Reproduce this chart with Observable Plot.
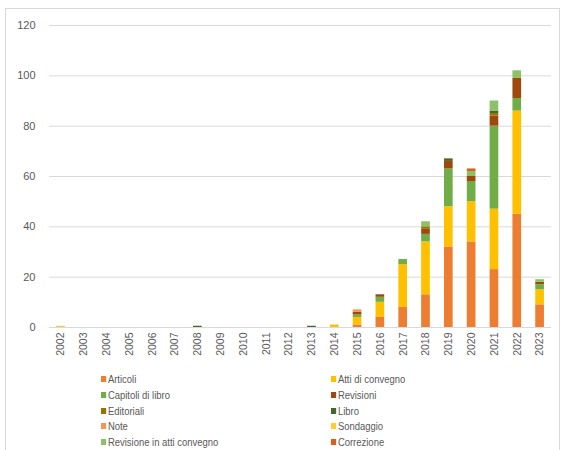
<!DOCTYPE html>
<html>
<head>
<meta charset="utf-8">
<script src="https://cdn.jsdelivr.net/npm/d3@7"></script>
<script src="https://cdn.jsdelivr.net/npm/@observablehq/plot@0.6"></script>
<style>
  body { margin: 0; background: #fff; width: 565px; height: 450px; overflow: hidden; position: relative;
         font-family: "Liberation Sans", Arial, sans-serif; }
  #frame { position: absolute; left: 5px; top: 8px; width: 555px; height: 460px; border: 1px solid #d9d9d9; box-sizing: border-box; }
  #chart { position: absolute; left: 0; top: 0; }
  .lg { position: absolute; font-size: 11px; color: #595959; line-height: 14px; white-space: nowrap;
        transform: scaleX(0.86); transform-origin: 0 50%; }
  .sw { display: inline-block; width: 6px; height: 6px; margin-right: 2px; vertical-align: 1px; }
</style>
</head>
<body>
<div id="frame"></div>
<div id="chart"></div>
<div id="legend"></div>
<script>
const years = ["2002","2003","2004","2005","2006","2007","2008","2009","2010","2011","2012","2013","2014","2015","2016","2017","2018","2019","2020","2021","2022","2023"];
const categories = ["Articoli","Atti di convegno","Capitoli di libro","Revisioni","Editoriali","Libro","Note","Sondaggio","Revisione in atti convegno","Correzione"];
const colors = ["#ED7D31","#FFC000","#70AD47","#9E480E","#997300","#43682B","#F1975A","#FFCD33","#8CC168","#D8601C"];
//                  02 03 04 05 06 07 08 09 10 11 12 13 14 15 16 17 18 19 20 21 22 23
const articoli   = [0, 0, 0, 0, 0, 0, 0, 0, 0, 0, 0, 0, 0, 1, 4, 8,13,32,34,23,45, 9];
const atti       = [0, 0, 0, 0, 0, 0, 0, 0, 0, 0, 0, 0, 1, 3, 6,17,21,16,16,24,41, 6];
const capitoli   = [0, 0, 0, 0, 0, 0, 0, 0, 0, 0, 0, 0, 0, 1, 2, 2, 3,15, 8,33, 5, 2];
const revisioni  = [0, 0, 0, 0, 0, 0, 0, 0, 0, 0, 0, 0, 0, 1, 1, 0, 2, 3, 2, 4, 8, 1];
const editoriali = [0, 0, 0, 0, 0, 0, 0, 0, 0, 0, 0, 0, 0, 0, 0, 0, 1, 0, 0, 1, 0, 0];
const libro      = [0, 0, 0, 0, 0, 0,0.5,0, 0, 0, 0,0.5,0, 0, 0, 0, 0, 1, 0, 1, 0, 0];
const note       = [0, 0, 0, 0, 0, 0, 0, 0, 0, 0, 0, 0, 0, 1, 0, 0, 0, 0, 0, 0, 0, 0];
const sondaggio  = [0.5,0,0, 0, 0, 0, 0, 0, 0, 0, 0, 0, 0, 0, 0, 0, 0, 0, 0, 0, 0, 0];
const revAtti    = [0, 0, 0, 0, 0, 0, 0, 0, 0, 0, 0, 0, 0, 0, 0, 0, 2, 0, 2, 4, 3, 1];
const correzione = [0, 0, 0, 0, 0, 0, 0, 0, 0, 0, 0, 0, 0, 0, 0, 0, 0, 0, 1, 0, 0, 0];
const yTicks = [0, 20, 40, 60, 80, 100, 120];

const series = [articoli, atti, capitoli, revisioni, editoriali, libro, note, sondaggio, revAtti, correzione];
const data = [];
series.forEach((arr, i) => arr.forEach((v, j) => { if (v > 0) data.push({year: years[j], cat: categories[i], value: v}); }));

const chart = Plot.plot({
  width: 565,
  height: 368,
  marginLeft: 49,
  marginRight: 14,
  marginTop: 25,
  marginBottom: 41,
  style: {fontFamily: '"Liberation Sans", Arial, sans-serif', fontSize: "11px", color: "#595959", background: "transparent"},
  x: {domain: years, paddingInner: 0.62, paddingOuter: 0.31, round: false, label: null},
  y: {domain: [0, 120], ticks: yTicks, label: null},
  color: {domain: categories, range: colors},
  marks: [
    Plot.gridY(yTicks, {stroke: "#d9d9d9", strokeOpacity: 1, strokeWidth: 1}),
    Plot.axisY(yTicks, {tickSize: 0, tickPadding: 14, fill: "#595959", label: null}),
    Plot.axisX({tickSize: 0, tickPadding: 5, tickRotate: -90, fill: "#595959", label: null, fontSize: 10.5}),
    Plot.barY(data, Plot.stackY({order: categories}, {x: "year", y: "value", fill: "cat"}))
  ]
});
document.getElementById("chart").appendChild(chart);

const legend = document.getElementById("legend");
categories.forEach((c, i) => {
  const d = document.createElement("div");
  d.className = "lg";
  d.style.left = (i % 2 === 0 ? 101 : 331) + "px";
  d.style.top = (372 + Math.floor(i / 2) * 15.8) + "px";
  d.innerHTML = `<span class="sw" style="background:${colors[i]}"></span>${c}`;
  legend.appendChild(d);
});
</script>
</body>
</html>
